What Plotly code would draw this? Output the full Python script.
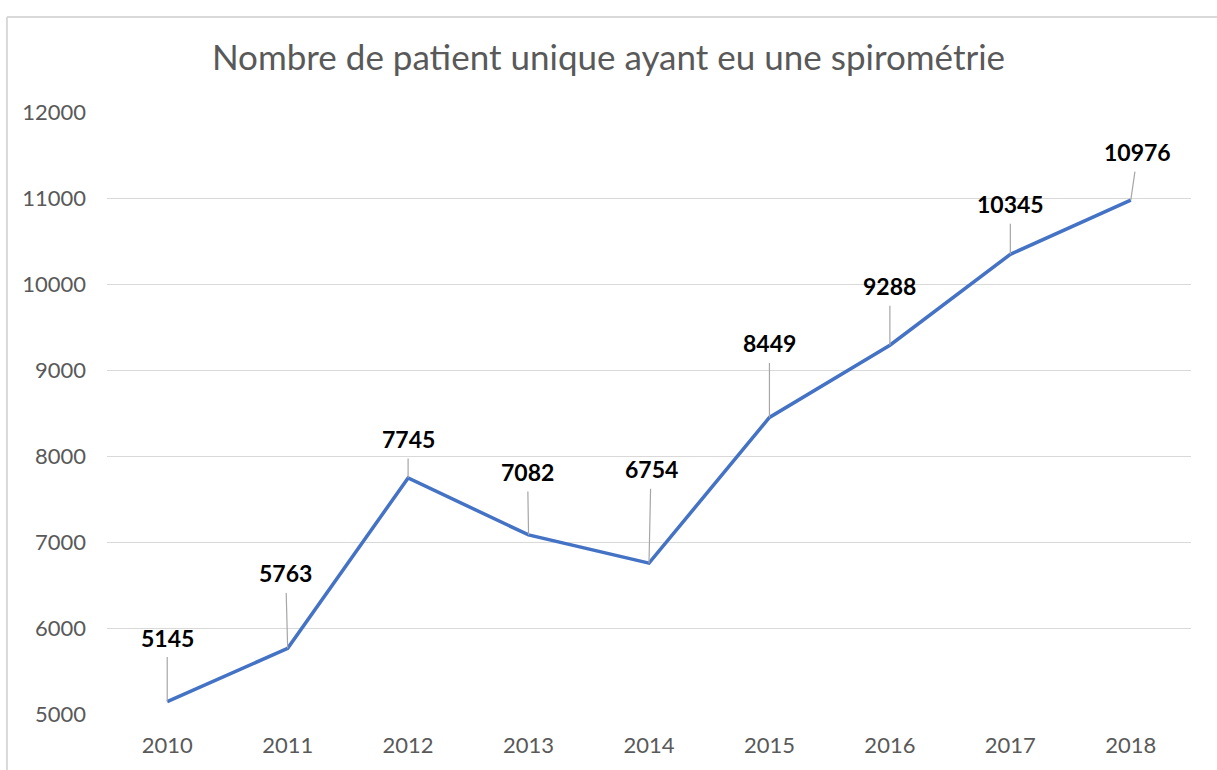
import plotly.graph_objects as go

years = ["2010", "2011", "2012", "2013", "2014", "2015", "2016", "2017", "2018"]
patients = [5145, 5763, 7745, 7082, 6754, 8449, 9288, 10345, 10976]
y_ticks = [5000, 6000, 7000, 8000, 9000, 10000, 11000, 12000]
title_text = "Nombre de patient unique ayant eu une spirométrie"

# label offsets (pixels) for the data labels with leader lines
label_dx = [0, -2, 0, -1, 2, 0, 0, 0, 7]
label_dy = [-64, -75, -39, -63, -94, -74, -59, -50, -48]

FONT = "Lato"

fig = go.Figure()
fig.add_trace(go.Scatter(
    x=years, y=patients, mode="lines",
    line=dict(color="#4472C4", width=3.5),
    hoverinfo="x+y", showlegend=False,
))

annotations = []
for i, (v, dx, dy) in enumerate(zip(patients, label_dx, label_dy)):
    annotations.append(dict(
        x=i, y=v, xref="x", yref="y", text="<b>" + str(v) + "</b>",
        showarrow=True, arrowhead=0, arrowwidth=1.2, arrowcolor="#A6A6A6",
        ax=dx, ay=dy, axref="pixel", ayref="pixel", borderpad=5,
        font=dict(family=FONT, size=23, color="#000000"),
    ))

border = dict(color="#D9D9D9", width=2)
fig.update_layout(
    width=1217, height=770,
    margin=dict(l=107, r=26, t=112, b=48),
    paper_bgcolor="white", plot_bgcolor="white",
    title=dict(text=title_text, x=0.5, xanchor="center", y=0.925, yanchor="middle",
               font=dict(family=FONT, size=35, color="#595959")),
    font=dict(family=FONT, color="#595959"),
    annotations=annotations,
    shapes=[
        dict(type="line", xref="paper", yref="paper",
             x0=-0.0923, x1=-0.0923, y0=-0.3, y1=1.158, line=border),
        dict(type="line", xref="paper", yref="paper",
             x0=-0.0923, x1=1.2, y0=1.158, y1=1.158, line=border),
    ],
    xaxis=dict(
        type="category", range=[-0.5, 8.5], showgrid=False, zeroline=False,
        showline=False, ticks="", tickfont=dict(size=22, color="#595959"),
        ticklabelstandoff=16, fixedrange=True,
    ),
    yaxis=dict(
        range=[5000, 12000], tickvals=y_ticks, ticktext=[str(t) for t in y_ticks],
        showgrid=True, gridcolor="#D9D9D9", gridwidth=1.2, zeroline=False,
        showline=False, ticks="", tickfont=dict(size=22, color="#595959"),
        ticklabelstandoff=20, fixedrange=True,
    ),
)

fig.write_html(
    "out.html",
    config={"displayModeBar": False},
    post_script="document.body.style.margin='0';document.body.style.overflow='hidden';",
)
